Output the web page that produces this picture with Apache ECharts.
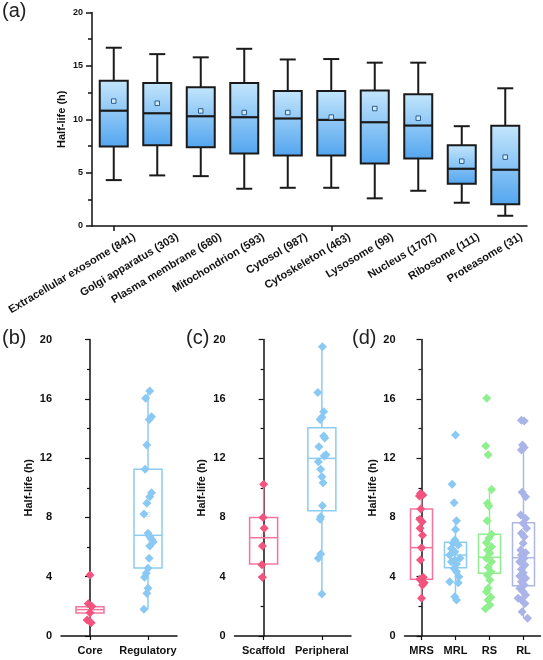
<!DOCTYPE html>
<html><head><meta charset="utf-8">
<script src="https://cdn.jsdelivr.net/npm/echarts@6/dist/echarts.min.js"></script>
<style>html,body{margin:0;padding:0;background:#fff}#chart{width:543px;height:660px}</style>
</head><body><div id="chart"></div>
<script>
// ---------- Panel (a): subcellular locations ----------
const locCategories = ['Extracellular exosome (841)', 'Golgi apparatus (303)', 'Plasma membrane (680)', 'Mitochondrion (593)', 'Cytosol (987)', 'Cytoskeleton (463)', 'Lysosome (99)', 'Nucleus (1707)', 'Ribosome (111)', 'Proteasome (31)'];
const locWhiskerLow  = [4.3, 4.74, 4.67, 3.49, 3.58, 3.58, 2.59, 3.3, 2.18, 0.96];
const locQ1          = [7.45, 7.57, 7.38, 6.8, 6.6, 6.6, 5.86, 6.32, 3.96, 2.03];
const locMedian      = [10.8, 10.56, 10.28, 10.19, 10.07, 9.94, 9.72, 9.41, 5.36, 5.27];
const locQ3          = [13.6, 13.4, 13.0, 13.4, 12.65, 12.65, 12.7, 12.34, 7.57, 9.38];
const locWhiskerHigh = [16.7, 16.1, 15.8, 16.6, 15.6, 15.64, 15.3, 15.3, 9.35, 12.9];
const locMean        = [11.7, 11.5, 10.78, 10.63, 10.63, 10.2, 11.0, 10.1, 6.07, 6.45];
const locTicks = [0, 5, 10, 15, 20];

// ---------- Panel (b): Core / Regulatory ----------
const bCategories = ['Core', 'Regulatory'];
const bLow    = [0.95, 1.8];
const bQ1     = [1.55, 4.59];
const bMedian = [1.78, 6.79];
const bQ3     = [1.98, 11.24];
const bHigh   = [2.2, 16.52];
const bMean   = [null, 8.2];
const corePoints = [4.11, 2.18, 2.0, 1.57, 1.08, 0.9];
const coreJitter = [0, -0.03, 0.03, 0, -0.05, 0.02];
const regulatoryPoints = [16.52, 16.03, 14.79, 14.61, 12.88, 11.24, 9.66, 9.39, 8.95, 8.23, 6.93, 6.7, 6.52, 6.36, 6.07, 5.24, 4.57, 4.23, 3.96, 3.22, 2.88, 1.8];
const regulatoryJitter = [0.03, -0.04, 0.06, 0.02, -0.02, -0.05, 0.06, 0.03, -0.02, -0.07, 0, 0.03, 0.06, 0.09, 0.03, 0.02, 0, -0.03, -0.06, 0, -0.02, -0.07];

// ---------- Panel (c): Scaffold / Peripheral ----------
const cCategories = ['Scaffold', 'Peripheral'];
const cLow    = [3.96, 2.83];
const cQ1     = [4.86, 8.45];
const cMedian = [6.63, 11.98];
const cQ3     = [8.0, 14.05];
const cHigh   = [10.23, 19.51];
const cMean   = [6.74, null];
const scaffoldPoints = [10.23, 8.0, 7.26, 6.07, 4.81, 3.96];
const scaffoldJitter = [0, -0.01, 0.01, -0.02, -0.03, -0.02];
const peripheralPoints = [19.51, 16.43, 15.13, 14.75, 14.61, 13.49, 13.35, 12.77, 12.23, 12.14, 11.75, 11.24, 10.74, 10.34, 8.79, 8.05, 7.87, 5.53, 5.24, 2.83];
const peripheralJitter = [0.01, -0.07, 0.03, 0, -0.03, 0.03, 0.05, -0.05, 0.07, 0.04, -0.06, -0.02, 0, 0.02, 0.01, -0.02, -0.03, -0.02, -0.06, 0];

// ---------- Panel (d): MRS / MRL / RS / RL ----------
const dCategories = ['MRS', 'MRL', 'RS', 'RL'];
const dLow    = [2.54, 2.43, 1.84, 1.19];
const dQ1     = [3.82, 4.6, 4.23, 3.39];
const dMedian = [5.96, 5.46, 5.31, 5.28];
const dQ3     = [8.56, 6.32, 6.86, 7.64];
const dHigh   = [9.62, 7.77, 9.89, 12.88];
const dMean   = [null, null, null, null];
const mrsPoints = [9.62, 9.51, 9.44, 8.56, 7.87, 7.71, 7.26, 6.79, 5.96, 5.12, 3.96, 3.82, 3.6, 3.44, 2.54];
const mrsJitter = [-0.03, 0.04, -0.06, -0.02, -0.05, 0.02, -0.04, 0.03, 0, -0.03, 0.05, -0.05, 0.08, 0.03, 0];
const mrlPoints = [13.55, 10.23, 8.99, 7.77, 7.19, 6.47, 6.25, 6.14, 5.91, 5.69, 5.46, 5.24, 5.12, 5.01, 4.86, 4.56, 4.34, 4.0, 3.66, 3.6, 2.65, 2.43];
const mrlJitter = [0, -0.1, -0.04, 0.03, 0, -0.02, -0.07, 0.08, -0.12, -0.02, -0.17, 0.13, -0.02, -0.12, 0.03, -0.04, 0.03, 0.1, -0.17, 0.08, -0.02, 0.03];
const rsPoints = [16.03, 12.81, 12.23, 9.89, 8.95, 8.77, 7.77, 6.86, 6.59, 6.29, 6.02, 5.8, 5.58, 5.24, 5.01, 4.63, 4.34, 4.11, 3.78, 3.22, 2.99, 2.61, 2.43, 2.09, 1.84];
const rsJitter = [-0.08, -0.11, -0.04, 0.06, -0.06, -0.02, -0.07, 0.06, -0.02, -0.09, 0.06, -0.06, 0.01, -0.09, 0.06, -0.04, 0.04, -0.06, 0.01, -0.04, -0.09, 0.04, -0.04, 0.01, -0.12];
const rlPoints = [14.56, 14.5, 12.88, 12.72, 12.54, 9.69, 9.39, 8.16, 7.93, 7.6, 7.26, 6.93, 6.7, 6.25, 5.8, 5.62, 5.46, 5.24, 5.01, 4.79, 4.5, 4.27, 4.05, 3.89, 3.66, 3.44, 3.22, 2.99, 2.76, 2.54, 2.43, 2.2, 1.64, 1.19];
const rlJitter = [-0.06, 0.02, -0.03, 0.02, -0.06, -0.04, 0.06, -0.08, 0.06, -0.01, 0.09, -0.06, 0.02, -0.01, -0.08, 0.06, -0.06, 0.02, -0.11, 0.04, -0.06, -0.01, -0.11, 0.06, -0.06, 0.02, -0.11, -0.01, 0.06, -0.16, -0.06, 0.04, -0.04, 0.12];
const smallTicks = [0, 4, 8, 12, 16, 20];

// ---------- styling ----------
const FONT = '"Liberation Sans", Arial, sans-serif';
const INK = '#111';
const PINK = '#f2547f', PINK_BOX = '#f4759c';
const BLUE = '#89c9f4', BLUE_BOX = '#8ccbf1';
const GREEN = '#8eef8c', GREEN_BOX = '#90ec8e';
const LAV = '#aab4e9', LAV_BOX = '#aeb6e6';

function rows(low, q1, med, q3, high, mean) {
  return low.map((v, i) => [i, v, q1[i], med[i], q3[i], high[i], mean[i] == null ? '-' : mean[i]]);
}

function boxSeries(xi, yi, data, st) {
  return {
    type: 'custom', xAxisIndex: xi, yAxisIndex: yi, z: 2, silent: true,
    dimensions: ['x', 'lo', 'q1', 'med', 'q3', 'hi', 'mean'],
    encode: { x: 0, y: [1, 2, 3, 4, 5] },
    data: data,
    renderItem: function (params, api) {
      const i = params.dataIndex;
      const color = st.colors[i % st.colors.length];
      const x = api.value(0);
      const yOf = v => api.coord([x, v])[1];
      const cx = api.coord([x, api.value(3)])[0];
      const yLo = yOf(api.value(1)), yQ1 = yOf(api.value(2)), yMed = yOf(api.value(3)),
            yQ3 = yOf(api.value(4)), yHi = yOf(api.value(5));
      const hw = st.boxWidth / 2, cw = st.capWidth / 2;
      const ls = { stroke: color, lineWidth: st.lineWidth, fill: null };
      const ch = [
        { type: 'line', shape: { x1: cx, y1: yHi, x2: cx, y2: yQ3 }, style: ls },
        { type: 'line', shape: { x1: cx, y1: yQ1, x2: cx, y2: yLo }, style: ls }
      ];
      if (cw > 0) {
        ch.push({ type: 'line', shape: { x1: cx - cw, y1: yHi, x2: cx + cw, y2: yHi }, style: ls });
        ch.push({ type: 'line', shape: { x1: cx - cw, y1: yLo, x2: cx + cw, y2: yLo }, style: ls });
      }
      ch.push({ type: 'rect', shape: { x: cx - hw, y: yQ3, width: 2 * hw, height: yQ1 - yQ3 },
        style: { fill: st.fill ? st.fill() : 'none', stroke: color, lineWidth: st.lineWidth } });
      ch.push({ type: 'line', shape: { x1: cx - hw, y1: yMed, x2: cx + hw, y2: yMed },
        style: { stroke: color, lineWidth: st.medianWidth } });
      const mean = api.value(6);
      if (mean != null && !isNaN(mean)) {
        const ym = yOf(mean), s = st.meanSize;
        ch.push({ type: 'rect', shape: { x: cx - s / 2, y: ym - s / 2, width: s, height: s },
          style: { fill: st.meanFill, stroke: st.meanStroke || color, lineWidth: 1, opacity: st.meanOpacity || 1 } });
      }
      return { type: 'group', children: ch };
    }
  };
}

function pointSeries(xi, yi, cat, values, jitter, color) {
  return {
    type: 'scatter', xAxisIndex: xi, yAxisIndex: yi, z: 3, silent: true,
    symbol: 'diamond', symbolSize: 9,
    itemStyle: { color: color, opacity: 1 },
    data: values.map((v, k) => [cat + jitter[k], v])
  };
}

const axisLine = { show: true, lineStyle: { color: INK, width: 1.5 } };
function valueY(gridIndex, interval, fontSize, nameGap, nameSize) {
  return {
    type: 'value', gridIndex: gridIndex, min: 0, max: 20, interval: interval,
    name: 'Half-life (h)', nameLocation: 'middle', nameGap: nameGap, nameMoveOverlap: false,
    nameTextStyle: { fontFamily: FONT, fontWeight: 'bold', fontSize: nameSize, color: INK },
    axisLine: axisLine,
    axisTick: { show: true, length: 5, lineStyle: { color: INK, width: 1.2 } },
    minorTick: { show: true, splitNumber: 2, length: 3, lineStyle: { color: INK, width: 1.2 } },
    axisLabel: { fontFamily: FONT, fontWeight: 'bold', fontSize: fontSize, color: INK, margin: 9 },
    splitLine: { show: false }
  };
}
function catX(gridIndex, data, fontSize) {
  return {
    type: 'category', gridIndex: gridIndex, data: data,
    axisLine: axisLine,
    axisTick: { show: true, alignWithLabel: true, length: 4, lineStyle: { color: INK, width: 1.2 } },
    axisLabel: { fontFamily: FONT, fontWeight: 'bold', fontSize: fontSize, color: INK, margin: 9, interval: 0 },
    splitLine: { show: false }
  };
}
function hiddenX(gridIndex, n) {
  return { type: 'value', gridIndex: gridIndex, min: -0.5, max: n - 0.5, show: false, splitLine: { show: false } };
}

const gradFill = () => new echarts.graphic.LinearGradient(0, 0, 0, 1, [
  { offset: 0, color: '#c4e6fc' }, { offset: 1, color: '#52a5ef' }
]);

const option = {
  animation: false,
  backgroundColor: '#fff',
  grid: [
    { left: 92, top: 12.5, width: 435, height: 213.5 },
    { left: 61, top: 339.5, width: 116, height: 296.5 },
    { left: 234.5, top: 339.5, width: 116.5, height: 296.5 },
    { left: 404.5, top: 339.5, width: 136, height: 296.5 },
    { left: 113, top: 12.5, width: 435, height: 213.5 }
  ],
  xAxis: [
    Object.assign(catX(0, locCategories, 10), { axisLabel: { show: false }, axisTick: { show: true, alignWithLabel: true, length: 5, lineStyle: { color: INK, width: 1.5 } } }),
    { type: 'category', gridIndex: 4, data: locCategories, axisLine: { show: false }, axisTick: { show: false },
      axisLabel: { fontFamily: FONT, fontWeight: 'bold', fontSize: 11, color: INK, rotate: 31, margin: 10, interval: 0 } },
    catX(1, bCategories, 11),
    hiddenX(1, bCategories.length),
    catX(2, cCategories, 11),
    hiddenX(2, cCategories.length),
    catX(3, dCategories, 11),
    hiddenX(3, dCategories.length)
  ],
  yAxis: [
    Object.assign(valueY(0, 5, 9, 24.5, 11), { axisTick: { show: true, length: 6, lineStyle: { color: INK, width: 1.5 } }, minorTick: { show: true, splitNumber: 2, length: 4, lineStyle: { color: INK, width: 1.5 } } }),
    valueY(1, 4, 11, 27, 11),
    valueY(2, 4, 11, 27, 11),
    valueY(3, 4, 11, 26, 11),
    { type: 'value', gridIndex: 4, show: false, min: 0, max: 20, splitLine: { show: false } }
  ],
  graphic: [
    { type: 'text', left: 2, top: 1, style: { text: '(a)', font: '20px ' + FONT, fill: '#222' } },
    { type: 'text', left: 2, top: 328, style: { text: '(b)', font: '20px ' + FONT, fill: '#222' } },
    { type: 'text', left: 186, top: 328, style: { text: '(c)', font: '20px ' + FONT, fill: '#222' } },
    { type: 'text', left: 352, top: 328, style: { text: '(d)', font: '20px ' + FONT, fill: '#222' } }
  ],
  series: [
    boxSeries(0, 0, rows(locWhiskerLow, locQ1, locMedian, locQ3, locWhiskerHigh, locMean), {
      colors: ['#1a1a1a'], boxWidth: 28, capWidth: 16, lineWidth: 2, medianWidth: 2.2, fill: gradFill,
      meanSize: 4.5, meanFill: '#d2ebfb', meanStroke: '#2d5f8e' }),
    boxSeries(2, 1, rows(bLow, bQ1, bMedian, bQ3, bHigh, bMean), {
      colors: [PINK_BOX, BLUE_BOX], boxWidth: 28, capWidth: 0, lineWidth: 1.5, medianWidth: 1.5,
      meanSize: 4, meanFill: 'none', meanOpacity: 0.35 }),
    pointSeries(3, 1, 0, corePoints, coreJitter, PINK),
    pointSeries(3, 1, 1, regulatoryPoints, regulatoryJitter, BLUE),
    boxSeries(4, 2, rows(cLow, cQ1, cMedian, cQ3, cHigh, cMean), {
      colors: [PINK_BOX, BLUE_BOX], boxWidth: 28, capWidth: 0, lineWidth: 1.5, medianWidth: 1.5,
      meanSize: 4, meanFill: 'none', meanOpacity: 0.35 }),
    pointSeries(5, 2, 0, scaffoldPoints, scaffoldJitter, PINK),
    pointSeries(5, 2, 1, peripheralPoints, peripheralJitter, BLUE),
    boxSeries(6, 3, rows(dLow, dQ1, dMedian, dQ3, dHigh, dMean), {
      colors: [PINK_BOX, BLUE_BOX, GREEN_BOX, LAV_BOX], boxWidth: 22, capWidth: 0, lineWidth: 1.5, medianWidth: 1.5,
      meanSize: 4, meanFill: 'none', meanOpacity: 0.35 }),
    pointSeries(7, 3, 0, mrsPoints, mrsJitter, PINK),
    pointSeries(7, 3, 1, mrlPoints, mrlJitter, BLUE),
    pointSeries(7, 3, 2, rsPoints, rsJitter, GREEN),
    pointSeries(7, 3, 3, rlPoints, rlJitter, LAV)
  ]
};

const chart = echarts.init(document.getElementById('chart'), null, { renderer: 'canvas' });
chart.setOption(option);
</script>
</body></html>
